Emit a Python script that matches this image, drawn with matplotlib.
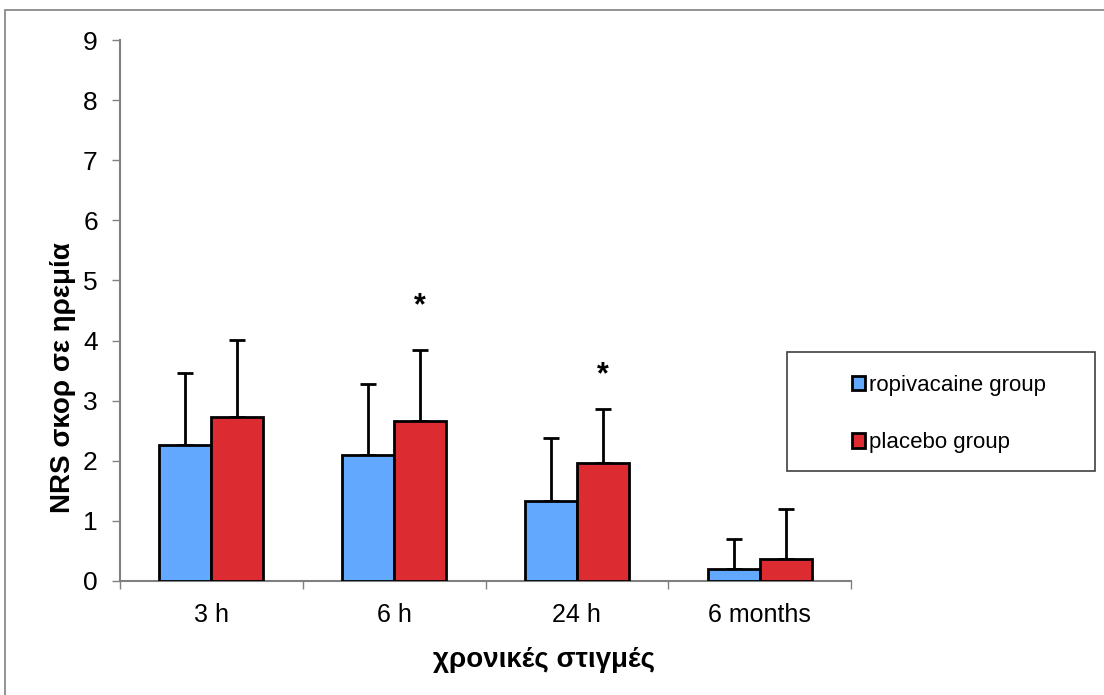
import numpy as np
import matplotlib.pyplot as plt
from matplotlib.patches import Rectangle

plt.rcParams['font.family'] = ['Liberation Sans', 'DejaVu Sans']

times = ['3 h', '6 h', '24 h', '6 months']
ropi_mean = [2.26, 2.10, 1.33, 0.20]
ropi_sd = [1.20, 1.18, 1.05, 0.50]
plac_mean = [2.73, 2.66, 1.96, 0.37]
plac_sd = [1.28, 1.18, 0.90, 0.83]
sig_idx = [1, 2]
sig_y = [4.57, 3.43]

c_ropi = '#63A8FF'
c_plac = '#DC2C32'

fig = plt.figure(figsize=(11.04, 6.95), dpi=100)
ax = fig.add_axes([120/1104, 1-581/695, 731/1104, 541/695])

x = np.arange(len(times))
w = 0.285
ax.bar(x - w/2, ropi_mean, w, color=c_ropi, edgecolor='black', linewidth=2,
       label='ropivacaine group', zorder=3)
ax.bar(x + w/2, plac_mean, w, color=c_plac, edgecolor='black', linewidth=2,
       label='placebo group', zorder=3)
ax.errorbar(x - w/2, ropi_mean, yerr=[np.zeros(4), ropi_sd], fmt='none',
            ecolor='black', elinewidth=2, capsize=6, capthick=2, zorder=2)
ax.errorbar(x + w/2, plac_mean, yerr=[np.zeros(4), plac_sd], fmt='none',
            ecolor='black', elinewidth=2, capsize=6, capthick=2, zorder=2)

for i, yv in zip(sig_idx, sig_y):
    ax.text(x[i] + w/2, yv, '*', ha='center', va='center', fontsize=22,
            fontweight='bold')

ax.set_xlim(-0.5, 3.5)
ax.set_ylim(0, 9)
ax.set_yticks(range(10))
ax.set_xticks(x)
ax.set_xticklabels(times)
ax.set_xticks(np.arange(-0.5, 4, 1), minor=True)
ax.tick_params(axis='x', which='major', length=0, pad=16, labelsize=18)
ax.tick_params(axis='x', which='minor', length=6, width=1, color='#808080',
               direction='out')
ax.tick_params(axis='y', length=6, width=1, color='#808080', pad=10,
               labelsize=19)

for s in ['top', 'right']:
    ax.spines[s].set_visible(False)
for s in ['left', 'bottom']:
    ax.spines[s].set_color('#808080')
    ax.spines[s].set_linewidth(1.5)

ax.set_ylabel('NRS σκορ σε ηρεμία', fontsize=20, fontweight='bold')
ax.yaxis.label.set_va('center')
ax.yaxis.set_label_coords(-57/731, (581-378)/541)
ax.set_xlabel('χρονικές στιγμές', fontsize=20, fontweight='bold')
ax.xaxis.label.set_va('center')
ax.xaxis.set_label_coords((544-120)/731, -(660-581)/541)

# legend box
fig.patches.append(Rectangle((787/1104, 1-471/695), 308/1104, 119/695,
                             transform=fig.transFigure, facecolor='white',
                             edgecolor='#404040', linewidth=1.2))
fig.legend(loc='center left', bbox_to_anchor=(841/1104, 1-414/695),
           frameon=False, fontsize=16, handlelength=0.6, handleheight=0.6,
           handletextpad=0.15, labelspacing=1.65, borderpad=0)

# outer frame
fig.patches.append(Rectangle((5/1104, -0.05), 1.1, 1.05 - 10/695,
                             transform=fig.transFigure, facecolor='none',
                             edgecolor='#808080', linewidth=1.2))

fig.savefig('out.png', dpi=100)
